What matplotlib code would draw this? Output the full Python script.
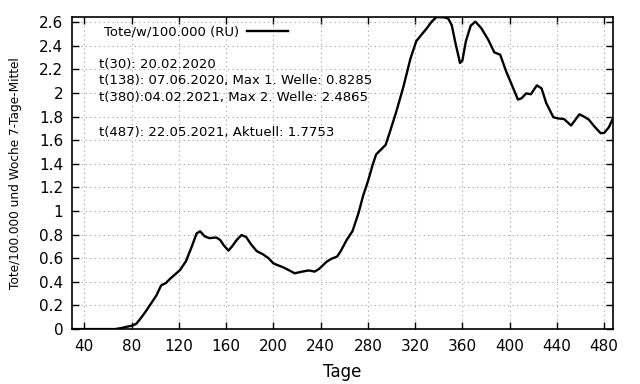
import matplotlib
matplotlib.use("Agg")
import matplotlib.pyplot as plt

# Tage (t) und Tote/w/100.000, 7-Tage-Mittel
tage = [29, 40, 50, 60, 66, 72, 76, 80, 84, 88, 92, 96, 101, 105, 109, 113,
        117, 121, 126, 131, 135, 138, 142, 146, 150, 152, 155, 158, 162, 165,
        169, 173, 177, 181, 186, 191, 196, 200, 204, 208, 213, 218, 224, 230,
        235, 239, 245, 249, 254, 257, 262, 267, 272, 276, 280, 284, 287, 291,
        295, 298, 304, 310, 316, 321, 325, 330, 334, 338, 344, 348, 351, 354,
        358, 360, 363, 367, 371, 376, 382, 387, 392, 397, 401, 407, 410, 414,
        418, 423, 427, 431, 437, 441, 446, 452, 455, 459, 463, 467, 472, 477,
        480, 484, 487]
tote = [0, 0, 0, 0, 0.0, 0.01, 0.02, 0.028, 0.045, 0.095, 0.15, 0.21, 0.285,
        0.37, 0.39, 0.43, 0.465, 0.5, 0.575, 0.70, 0.81, 0.8285, 0.785, 0.77,
        0.775, 0.775, 0.755, 0.71, 0.665, 0.70, 0.755, 0.797, 0.78, 0.72,
        0.66, 0.635, 0.60, 0.557, 0.54, 0.525, 0.50, 0.473, 0.486, 0.497,
        0.487, 0.512, 0.57, 0.595, 0.615, 0.66, 0.754, 0.83, 0.98, 1.13, 1.25,
        1.39, 1.48, 1.52, 1.56, 1.65, 1.84, 2.05, 2.29, 2.44, 2.49, 2.55,
        2.605, 2.643, 2.642, 2.632, 2.575, 2.43, 2.255, 2.275, 2.44, 2.57,
        2.605, 2.55, 2.45, 2.345, 2.325, 2.185, 2.09, 1.945, 1.955, 1.997,
        1.99, 2.065, 2.04, 1.915, 1.795, 1.785, 1.78, 1.725, 1.765, 1.82,
        1.80, 1.775, 1.714, 1.66, 1.662, 1.71, 1.7753]

x_ticks = list(range(40, 481, 40))
y_ticks = [round(0.2 * i, 1) for i in range(14)]
y_ticklabels = ["0", "0.2", "0.4", "0.6", "0.8", "1", "1.2", "1.4", "1.6",
                "1.8", "2", "2.2", "2.4", "2.6"]

notes = [
    "t(30): 20.02.2020",
    "t(138): 07.06.2020, Max 1. Welle: 0.8285",
    "t(380):04.02.2021, Max 2. Welle: 2.4865",
    "t(487): 22.05.2021, Aktuell: 1.7753",
]
note_y = [0.850, 0.796, 0.744, 0.632]

fig = plt.figure(figsize=(6.4, 3.84), dpi=100)
ax = fig.add_axes([0.112, 0.143, 0.846, 0.812])

ax.plot(tage, tote, color="black", lw=1.7, label="Tote/w/100.000 (RU)",
        solid_joinstyle="round")

ax.set_xlim(29.3, 487.6)
ax.set_ylim(0, 2.642)
ax.set_xticks(x_ticks)
ax.set_yticks(y_ticks)
ax.set_yticklabels(y_ticklabels)
ax.tick_params(direction="in", length=5, width=1, labelsize=11,
               top=True, right=True)
ax.tick_params(axis="x", pad=7)
ax.tick_params(axis="y", pad=6)
for s in ax.spines.values():
    s.set_linewidth(1.2)

ax.grid(True, color="#a0a0a0", lw=0.8, linestyle=(0, (1, 3)))

ax.set_xlabel("Tage", fontsize=12)
ax.xaxis.set_label_coords(0.5, -0.138)
ax.xaxis.label.set_va("center")
ax.set_ylabel("Tote/100.000 und Woche 7-Tage-Mittel", fontsize=8.7)
ax.yaxis.set_label_coords(-0.103, 0.5)
ax.yaxis.label.set_va("center")

ax.legend(loc="center left", bbox_to_anchor=(0.06, 0.953), frameon=False,
          markerfirst=False, fontsize=9.5, handlelength=3.1,
          handletextpad=0.6, borderpad=0, borderaxespad=0)

for txt, yy in zip(notes, note_y):
    ax.text(0.051, yy, txt, transform=ax.transAxes, fontsize=9.5,
            va="center", ha="left")

fig.savefig("out.png", dpi=100)
